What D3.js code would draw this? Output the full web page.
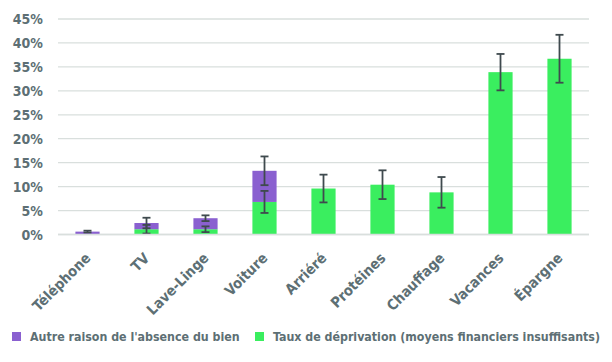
<!DOCTYPE html>
<html>
<head>
<meta charset="utf-8">
<script src="https://cdn.jsdelivr.net/npm/d3@7"></script>
<style>
body{margin:0;background:#fff;}
text{font-family:"DejaVu Sans Condensed","DejaVu Sans",sans-serif;font-weight:bold;fill:#5d6f74;}
</style>
</head>
<body>
<div id="main"></div>
<script>
// données (en %)
const categories=["Téléphone","TV","Lave-Linge","Voiture","Arriéré","Protéines","Chauffage","Vacances","Épargne"]
const deprivation=[0.1,1.1,1.1,6.8,9.6,10.4,8.8,33.9,36.7]
const deprivationErr=[0.1,0.9,0.6,2.3,2.9,3.0,3.2,3.8,5.0]
const autre=[0.5,1.3,2.3,6.5,0,0,0,0,0]
const autreErr=[0.2,1.1,0.6,3.0,0,0,0,0,0]
const yTicks=[0,5,10,15,20,25,30,35,40,45]
const legendLabels=["Autre raison de l'absence du bien","Taux de déprivation (moyens financiers insuffisants)"]

const couleurs={autre:"#8a60d0",dep:"#3aee5f"}

function initViz()
{
    let svg=d3.select("#main").append("svg").attr("width",612).attr("height",362)

    let x=d3.scaleBand().domain(categories).range([58,589]).paddingInner(0.59).paddingOuter(0.295)
    let y=d3.scaleLinear().domain([0,45]).range([234.5,19])

    //grille
    svg.selectAll(".grid").data(yTicks).enter().append("line")
    .attr("x1",58).attr("x2",589)
    .attr("y1",d=>y(d)).attr("y2",d=>y(d))
    .attr("stroke","#d9dfdd").attr("stroke-width",1.3)

    svg.selectAll(".ylab").data(yTicks).enter().append("text")
    .attr("x",43).attr("y",d=>y(d)+5)
    .attr("text-anchor","end").style("font-size","14px")
    .text(d=>d+"%")

    // barres empilées : déprivation en bas, autre raison au dessus
    let rows=categories.map((c,i)=>({cat:c,dep:deprivation[i],depErr:deprivationErr[i],autre:autre[i],autreErr:autreErr[i]}))

    svg.selectAll(".bdep").data(rows).enter().append("rect")
    .attr("x",d=>x(d.cat)).attr("width",x.bandwidth())
    .attr("y",d=>y(d.dep)).attr("height",d=>y(0)-y(d.dep))
    .attr("fill",couleurs.dep)

    svg.selectAll(".bautre").data(rows.filter(d=>d.autre>0)).enter().append("rect")
    .attr("x",d=>x(d.cat)).attr("width",x.bandwidth())
    .attr("y",d=>y(d.dep+d.autre)).attr("height",d=>y(d.dep)-y(d.dep+d.autre))
    .attr("fill",couleurs.autre)

    // barres d'erreur
    let errs=[]
    rows.forEach(d=>{
        if(d.dep>0.2) errs.push({cat:d.cat,v:d.dep,e:d.depErr})
        if(d.autre>0) errs.push({cat:d.cat,v:d.dep+d.autre,e:d.autreErr})
    })
    let eg=svg.selectAll(".err").data(errs).enter().append("g")
    eg.append("line")
    .attr("x1",d=>x(d.cat)+x.bandwidth()/2).attr("x2",d=>x(d.cat)+x.bandwidth()/2)
    .attr("y1",d=>y(d.v+d.e)).attr("y2",d=>y(d.v-d.e))
    .attr("stroke","#3f4a4e").attr("stroke-width",1.8)
    ;[1,-1].forEach(s=>{
        eg.append("line")
        .attr("x1",d=>x(d.cat)+x.bandwidth()/2-4).attr("x2",d=>x(d.cat)+x.bandwidth()/2+4)
        .attr("y1",d=>y(d.v+s*d.e)).attr("y2",d=>y(d.v+s*d.e))
        .attr("stroke","#3f4a4e").attr("stroke-width",1.8)
    })

    // axe x
    svg.append("line").attr("x1",58).attr("x2",589).attr("y1",y(0)).attr("y2",y(0))
    .attr("stroke","#d9dfdd").attr("stroke-width",1.5)

    svg.selectAll(".xlab").data(categories).enter().append("text")
    .attr("text-anchor","end").style("font-size","14.5px")
    .attr("transform",d=>"translate("+(x(d)+x.bandwidth()/2+4)+",259) rotate(-45)")
    .text(d=>d)

    // légende
    let lx=[12,255]
    legendLabels.forEach((l,i)=>{
        svg.append("rect").attr("x",lx[i]).attr("y",332).attr("width",9).attr("height",9)
        .attr("fill",i==0?couleurs.autre:couleurs.dep)
        svg.append("text").attr("x",lx[i]+18).attr("y",341).style("font-size","12.3px").text(l)
    })
}
initViz()
</script>
</body>
</html>
